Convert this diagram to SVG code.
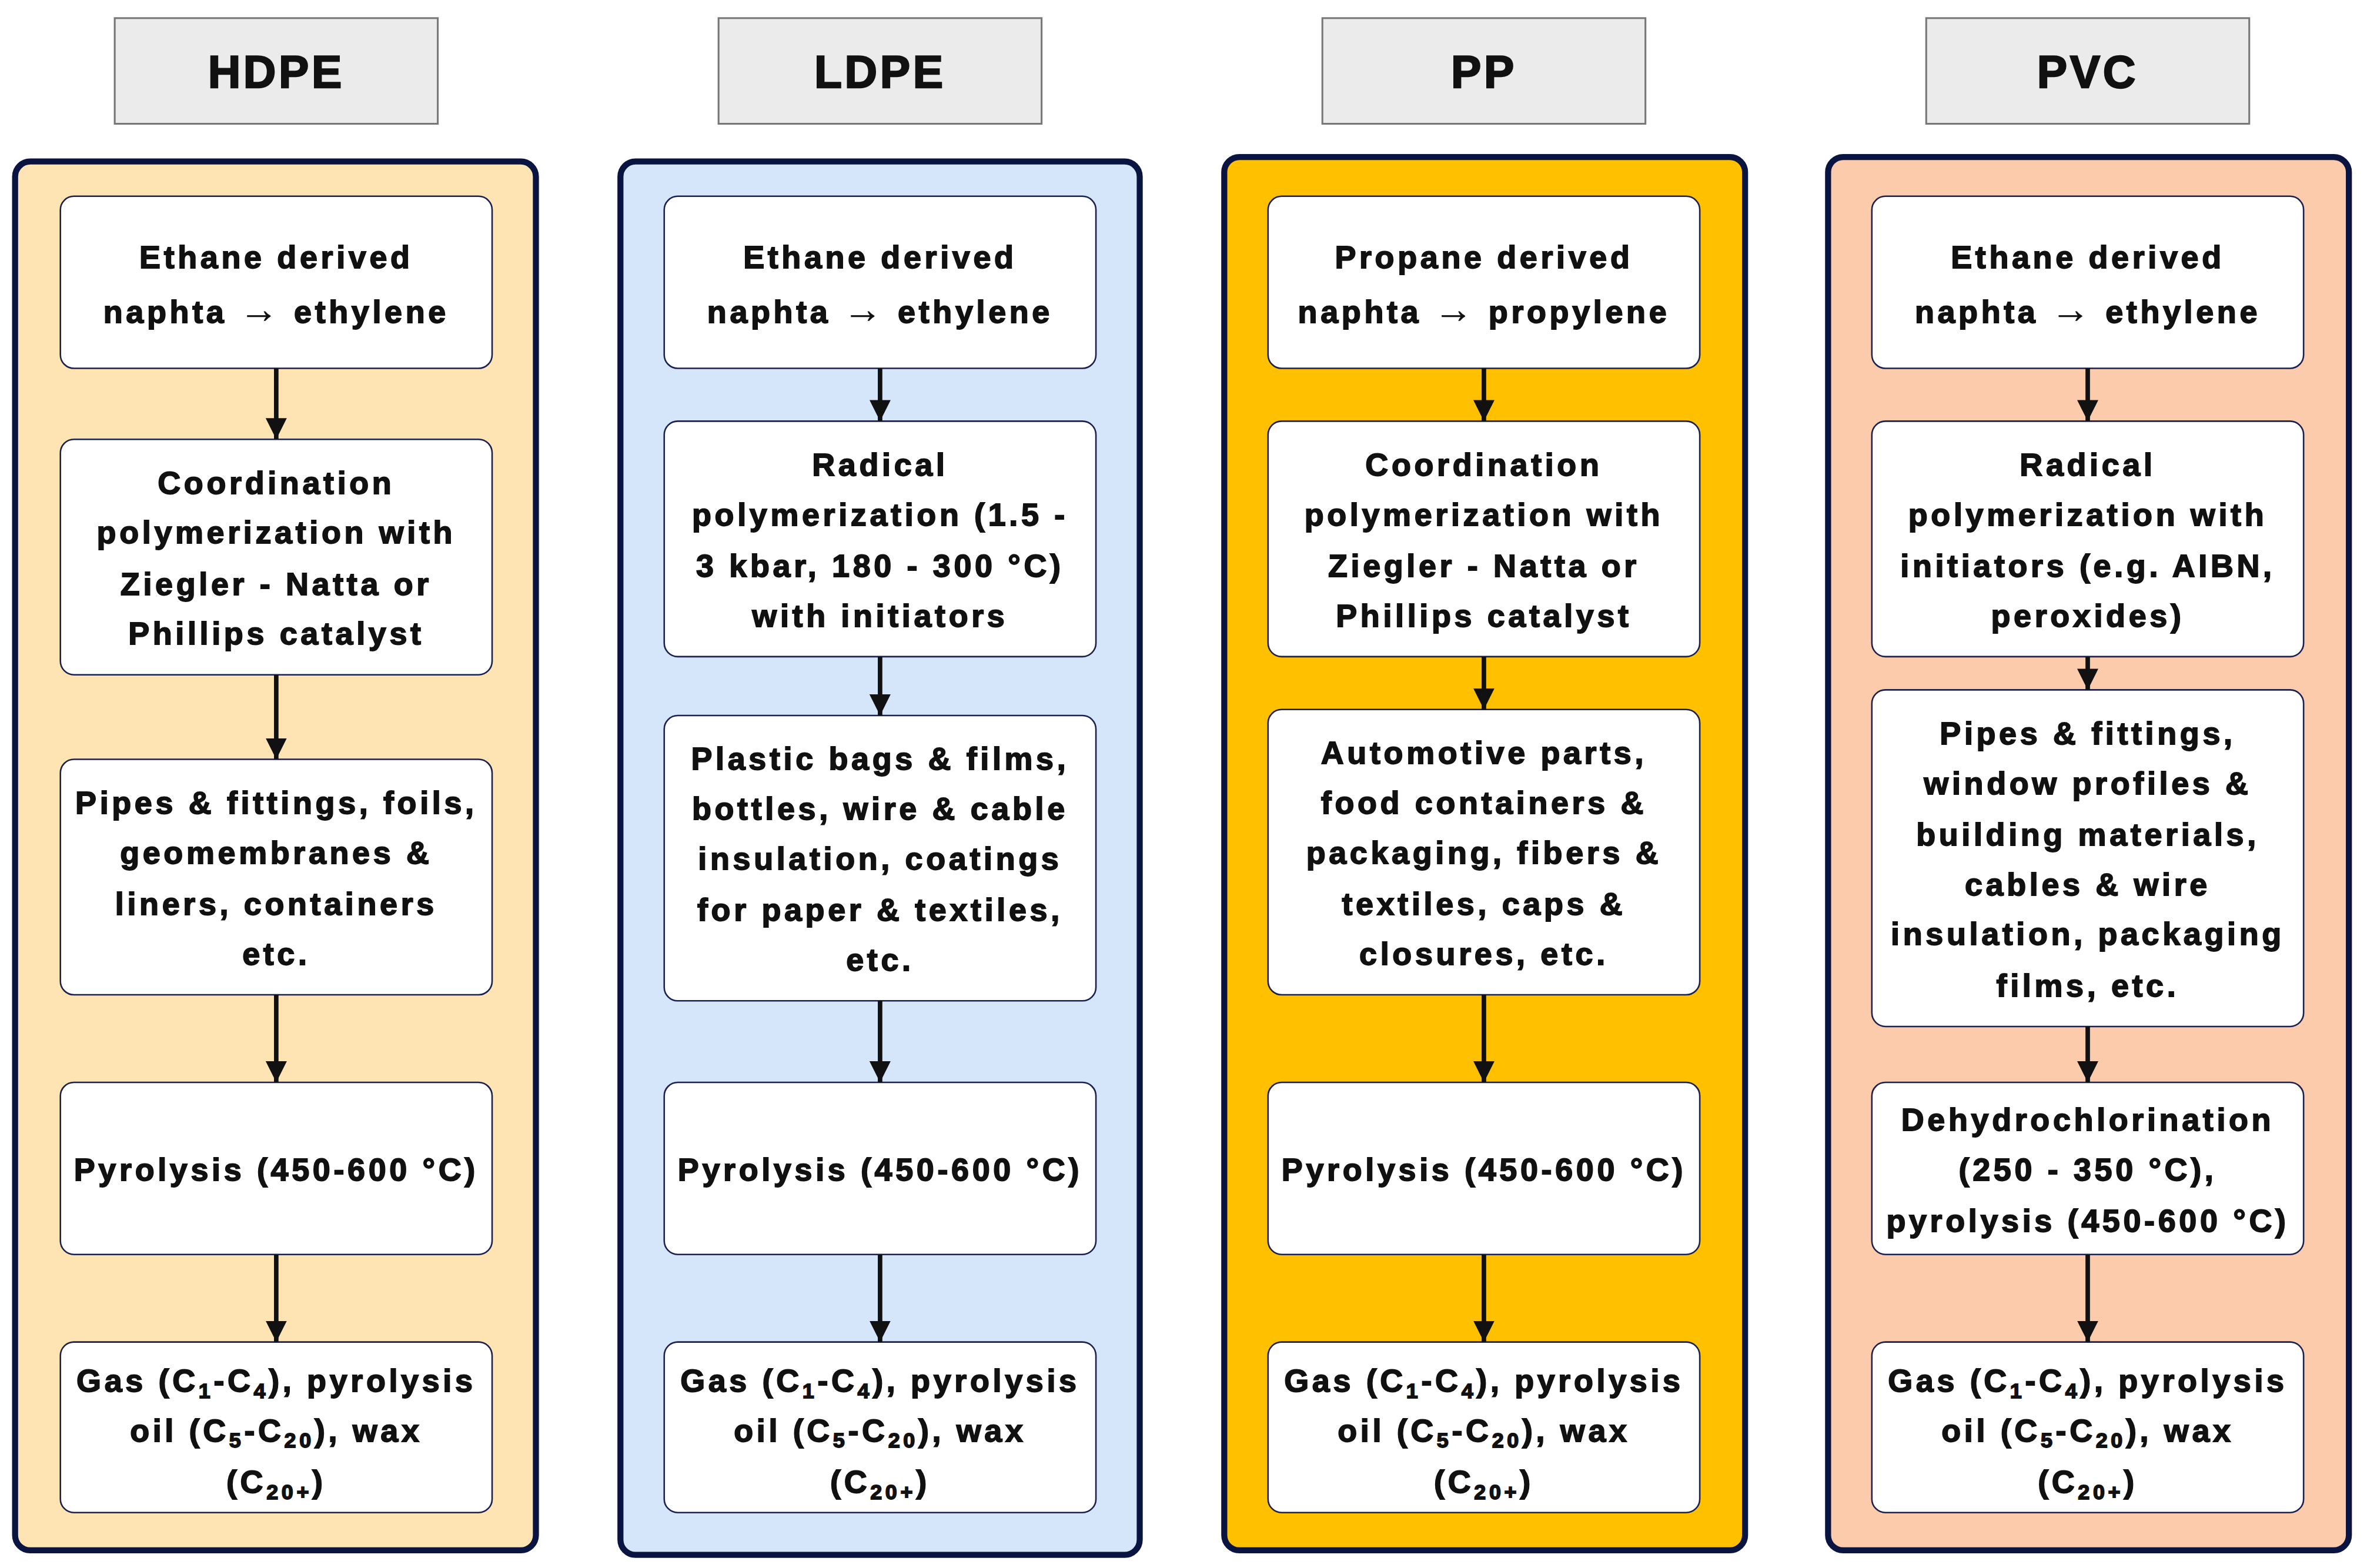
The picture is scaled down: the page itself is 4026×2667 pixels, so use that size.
<svg xmlns="http://www.w3.org/2000/svg" width="4026" height="2667" viewBox="0 0 4026 2667">
<style>
.hd{fill:#ebebeb;stroke:#777;stroke-width:1.2}
.ht{font-family:"Liberation Sans",Arial,sans-serif;font-weight:bold;font-size:30px;letter-spacing:1.8px;text-anchor:middle;fill:#111;stroke:#111;stroke-width:0.9}
.pn{stroke:#0a1440;stroke-width:4}
.bx{fill:#fff;stroke:#1a2050;stroke-width:1}
.t{font-family:"Liberation Sans",Arial,sans-serif;font-weight:bold;font-size:21px;letter-spacing:2.2px;text-anchor:middle;fill:#111;stroke:#111;stroke-width:0.7}
.s{font-size:14px}
.a{font-size:26px;stroke-width:0.2}
.ar{stroke:#111;stroke-width:3;fill:none}
</style>
<defs><marker id="ah" markerUnits="userSpaceOnUse" markerWidth="14" markerHeight="14" viewBox="0 0 14 14" refX="14" refY="7" orient="auto"><path d="M0,0 L14,7 L0,14 Z" fill="#111"/></marker></defs>
<rect width="4026" height="2667" fill="#fff"/>
<g transform="scale(2.5676)">
<g id="hdpe">
<rect class="hd" x="76" y="12" width="214" height="70"/><text class="ht" x="183" y="58">HDPE</text>
<rect class="pn" x="10" y="107" width="345" height="920" rx="10" fill="#fee3b3"/>
<rect class="bx" x="40" y="130" width="286" height="114" rx="9"/>
<text class="t"><tspan x="183" y="177.5">Ethane derived</tspan><tspan x="183" y="214">naphta <tspan class="a">→</tspan> ethylene</tspan></text>
<rect class="bx" x="40" y="291" width="286" height="156" rx="9"/>
<text class="t"><tspan x="183" y="327">Coordination</tspan><tspan x="183" y="360">polymerization with</tspan><tspan x="183" y="394">Ziegler - Natta or</tspan><tspan x="183" y="427">Phillips catalyst</tspan></text>
<rect class="bx" x="40" y="503" width="286" height="156" rx="9"/>
<text class="t"><tspan x="183" y="539">Pipes &amp; fittings, foils,</tspan><tspan x="183" y="572">geomembranes &amp;</tspan><tspan x="183" y="606">liners, containers</tspan><tspan x="183" y="639">etc.</tspan></text>
<rect class="bx" x="40" y="717" width="286" height="114" rx="9"/>
<text class="t" x="183" y="782">Pyrolysis (450-600 °C)</text>
<rect class="bx" x="40" y="889" width="286" height="113" rx="9"/>
<text class="t"><tspan x="183" y="922">Gas (C<tspan class="s" dy="4">1</tspan><tspan dy="-4">-C</tspan><tspan class="s" dy="4">4</tspan><tspan dy="-4">), pyrolysis</tspan></tspan><tspan x="183" y="955">oil (C<tspan class="s" dy="4">5</tspan><tspan dy="-4">-C</tspan><tspan class="s" dy="4">20</tspan><tspan dy="-4">), wax</tspan></tspan><tspan x="183" y="989">(C<tspan class="s" dy="4">20+</tspan><tspan dy="-4">)</tspan></tspan></text>
</g>
<g id="ldpe">
<rect class="hd" x="476" y="12" width="214" height="70"/><text class="ht" x="583" y="58">LDPE</text>
<rect class="pn" x="411" y="107" width="344" height="923" rx="10" fill="#d6e6fa"/>
<rect class="bx" x="440" y="130" width="286" height="114" rx="9"/>
<text class="t"><tspan x="583" y="177.5">Ethane derived</tspan><tspan x="583" y="214">naphta <tspan class="a">→</tspan> ethylene</tspan></text>
<rect class="bx" x="440" y="279" width="286" height="156" rx="9"/>
<text class="t"><tspan x="583" y="315">Radical</tspan><tspan x="583" y="348">polymerization (1.5 -</tspan><tspan x="583" y="382">3 kbar, 180 - 300 °C)</tspan><tspan x="583" y="415">with initiators</tspan></text>
<rect class="bx" x="440" y="474" width="286" height="189" rx="9"/>
<text class="t"><tspan x="583" y="510">Plastic bags &amp; films,</tspan><tspan x="583" y="543">bottles, wire &amp; cable</tspan><tspan x="583" y="576">insulation, coatings</tspan><tspan x="583" y="610">for paper &amp; textiles,</tspan><tspan x="583" y="643">etc.</tspan></text>
<rect class="bx" x="440" y="717" width="286" height="114" rx="9"/>
<text class="t" x="583" y="782">Pyrolysis (450-600 °C)</text>
<rect class="bx" x="440" y="889" width="286" height="113" rx="9"/>
<text class="t"><tspan x="583" y="922">Gas (C<tspan class="s" dy="4">1</tspan><tspan dy="-4">-C</tspan><tspan class="s" dy="4">4</tspan><tspan dy="-4">), pyrolysis</tspan></tspan><tspan x="583" y="955">oil (C<tspan class="s" dy="4">5</tspan><tspan dy="-4">-C</tspan><tspan class="s" dy="4">20</tspan><tspan dy="-4">), wax</tspan></tspan><tspan x="583" y="989">(C<tspan class="s" dy="4">20+</tspan><tspan dy="-4">)</tspan></tspan></text>
</g>
<g id="pp">
<rect class="hd" x="876" y="12" width="214" height="70"/><text class="ht" x="983" y="58">PP</text>
<rect class="pn" x="811" y="104" width="345" height="923" rx="10" fill="#ffc000"/>
<rect class="bx" x="840" y="130" width="286" height="114" rx="9"/>
<text class="t"><tspan x="983" y="177.5">Propane derived</tspan><tspan x="983" y="214">naphta <tspan class="a">→</tspan> propylene</tspan></text>
<rect class="bx" x="840" y="279" width="286" height="156" rx="9"/>
<text class="t"><tspan x="983" y="315">Coordination</tspan><tspan x="983" y="348">polymerization with</tspan><tspan x="983" y="382">Ziegler - Natta or</tspan><tspan x="983" y="415">Phillips catalyst</tspan></text>
<rect class="bx" x="840" y="470" width="286" height="189" rx="9"/>
<text class="t"><tspan x="983" y="506">Automotive parts,</tspan><tspan x="983" y="539">food containers &amp;</tspan><tspan x="983" y="572">packaging, fibers &amp;</tspan><tspan x="983" y="606">textiles, caps &amp;</tspan><tspan x="983" y="639">closures, etc.</tspan></text>
<rect class="bx" x="840" y="717" width="286" height="114" rx="9"/>
<text class="t" x="983" y="782">Pyrolysis (450-600 °C)</text>
<rect class="bx" x="840" y="889" width="286" height="113" rx="9"/>
<text class="t"><tspan x="983" y="922">Gas (C<tspan class="s" dy="4">1</tspan><tspan dy="-4">-C</tspan><tspan class="s" dy="4">4</tspan><tspan dy="-4">), pyrolysis</tspan></tspan><tspan x="983" y="955">oil (C<tspan class="s" dy="4">5</tspan><tspan dy="-4">-C</tspan><tspan class="s" dy="4">20</tspan><tspan dy="-4">), wax</tspan></tspan><tspan x="983" y="989">(C<tspan class="s" dy="4">20+</tspan><tspan dy="-4">)</tspan></tspan></text>
</g>
<g id="pvc">
<rect class="hd" x="1276" y="12" width="214" height="70"/><text class="ht" x="1383" y="58">PVC</text>
<rect class="pn" x="1211" y="104" width="345" height="923" rx="10" fill="#fbcbab"/>
<rect class="bx" x="1240" y="130" width="286" height="114" rx="9"/>
<text class="t"><tspan x="1383" y="177.5">Ethane derived</tspan><tspan x="1383" y="214">naphta <tspan class="a">→</tspan> ethylene</tspan></text>
<rect class="bx" x="1240" y="279" width="286" height="156" rx="9"/>
<text class="t"><tspan x="1383" y="315">Radical</tspan><tspan x="1383" y="348">polymerization with</tspan><tspan x="1383" y="382">initiators (e.g. AIBN,</tspan><tspan x="1383" y="415">peroxides)</tspan></text>
<rect class="bx" x="1240" y="457" width="286" height="223" rx="9"/>
<text class="t"><tspan x="1383" y="493">Pipes &amp; fittings,</tspan><tspan x="1383" y="526">window profiles &amp;</tspan><tspan x="1383" y="560">building materials,</tspan><tspan x="1383" y="593">cables &amp; wire</tspan><tspan x="1383" y="626">insulation, packaging</tspan><tspan x="1383" y="660">films, etc.</tspan></text>
<rect class="bx" x="1240" y="717" width="286" height="114" rx="9"/>
<text class="t"><tspan x="1383" y="749">Dehydrochlorination</tspan><tspan x="1383" y="782">(250 - 350 °C),</tspan><tspan x="1383" y="816">pyrolysis (450-600 °C)</tspan></text>
<rect class="bx" x="1240" y="889" width="286" height="113" rx="9"/>
<text class="t"><tspan x="1383" y="922">Gas (C<tspan class="s" dy="4">1</tspan><tspan dy="-4">-C</tspan><tspan class="s" dy="4">4</tspan><tspan dy="-4">), pyrolysis</tspan></tspan><tspan x="1383" y="955">oil (C<tspan class="s" dy="4">5</tspan><tspan dy="-4">-C</tspan><tspan class="s" dy="4">20</tspan><tspan dy="-4">), wax</tspan></tspan><tspan x="1383" y="989">(C<tspan class="s" dy="4">20+</tspan><tspan dy="-4">)</tspan></tspan></text>
</g>
<g id="connectors" class="ar">
<line x1="183" y1="244" x2="183" y2="291" marker-end="url(#ah)"/>
<line x1="183" y1="447" x2="183" y2="503" marker-end="url(#ah)"/>
<line x1="183" y1="659" x2="183" y2="717" marker-end="url(#ah)"/>
<line x1="183" y1="831" x2="183" y2="889" marker-end="url(#ah)"/>
<line x1="583" y1="244" x2="583" y2="279" marker-end="url(#ah)"/>
<line x1="583" y1="435" x2="583" y2="474" marker-end="url(#ah)"/>
<line x1="583" y1="663" x2="583" y2="717" marker-end="url(#ah)"/>
<line x1="583" y1="831" x2="583" y2="889" marker-end="url(#ah)"/>
<line x1="983" y1="244" x2="983" y2="279" marker-end="url(#ah)"/>
<line x1="983" y1="435" x2="983" y2="470" marker-end="url(#ah)"/>
<line x1="983" y1="659" x2="983" y2="717" marker-end="url(#ah)"/>
<line x1="983" y1="831" x2="983" y2="889" marker-end="url(#ah)"/>
<line x1="1383" y1="244" x2="1383" y2="279" marker-end="url(#ah)"/>
<line x1="1383" y1="435" x2="1383" y2="457" marker-end="url(#ah)"/>
<line x1="1383" y1="680" x2="1383" y2="717" marker-end="url(#ah)"/>
<line x1="1383" y1="831" x2="1383" y2="889" marker-end="url(#ah)"/>
</g>
</g>
</svg>
